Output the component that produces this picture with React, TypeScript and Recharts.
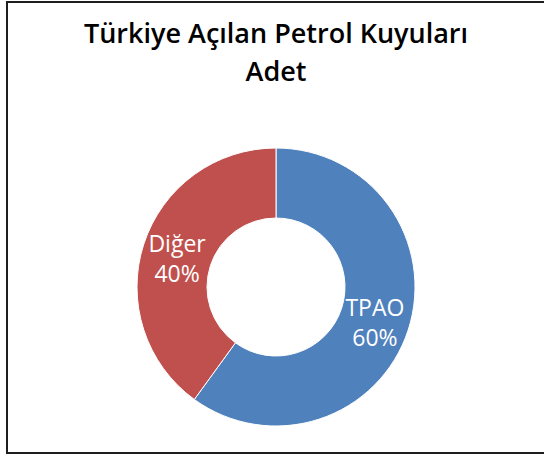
import React from "react";
import { PieChart, Pie, Cell } from "recharts";

const categories = ["TPAO", "Diğer"];
const values = [60, 40];
const colors = ["#4F81BD", "#C0504D"];
const titleLines = ["Türkiye Açılan Petrol Kuyuları", "Adet"];

const data = categories.map((name, i) => ({ name, value: values[i] }));

const RAD = Math.PI / 180;
const renderLabel = (props: any) => {
  const { cx, cy, midAngle, innerRadius, outerRadius, name, percent } = props;
  const r = (innerRadius + outerRadius) / 2;
  const x = cx + r * Math.cos(-midAngle * RAD);
  const y = cy + r * Math.sin(-midAngle * RAD);
  return (
    <text
      x={x}
      y={y}
      fill="#ffffff"
      textAnchor="middle"
      fontFamily="'Open Sans', sans-serif"
      fontSize={23}
    >
      <tspan x={x} y={y - 3}>{name}</tspan>
      <tspan x={x} y={y + 27}>{`${Math.round(percent * 100)}%`}</tspan>
    </text>
  );
};

export default function App() {
  return (
    <div
      style={{
        position: "absolute",
        left: 0,
        top: 0,
        width: 544,
        height: 455,
        background: "#fff",
        overflow: "hidden",
      }}
    >
      <div
        style={{
          position: "absolute",
          left: 6,
          top: 1,
          width: 560,
          height: 449,
          border: "2px solid #1e1e1e",
          borderRight: "none",
        }}
      />
      <div
        style={{
          position: "absolute",
          left: 0,
          top: 14,
          width: 552,
          textAlign: "center",
          fontFamily: "'Open Sans', sans-serif",
          fontWeight: 600,
          fontSize: 27,
          lineHeight: "38px",
          color: "#000",
        }}
      >
        {titleLines.map((t) => (
          <div key={t}>{t}</div>
        ))}
      </div>
      <div style={{ position: "absolute", left: 0, top: 0 }}>
        <PieChart width={544} height={455} margin={{ top: 0, right: 0, bottom: 0, left: 0 }}>
          <Pie
            data={data}
            dataKey="value"
            nameKey="name"
            cx={276}
            cy={287}
            innerRadius={69}
            outerRadius={139}
            startAngle={90}
            endAngle={-270}
            stroke="#ffffff"
            strokeWidth={1}
            label={renderLabel}
            labelLine={false}
            isAnimationActive={false}
          >
            {data.map((d, i) => (
              <Cell key={d.name} fill={colors[i]} />
            ))}
          </Pie>
        </PieChart>
      </div>
    </div>
  );
}
